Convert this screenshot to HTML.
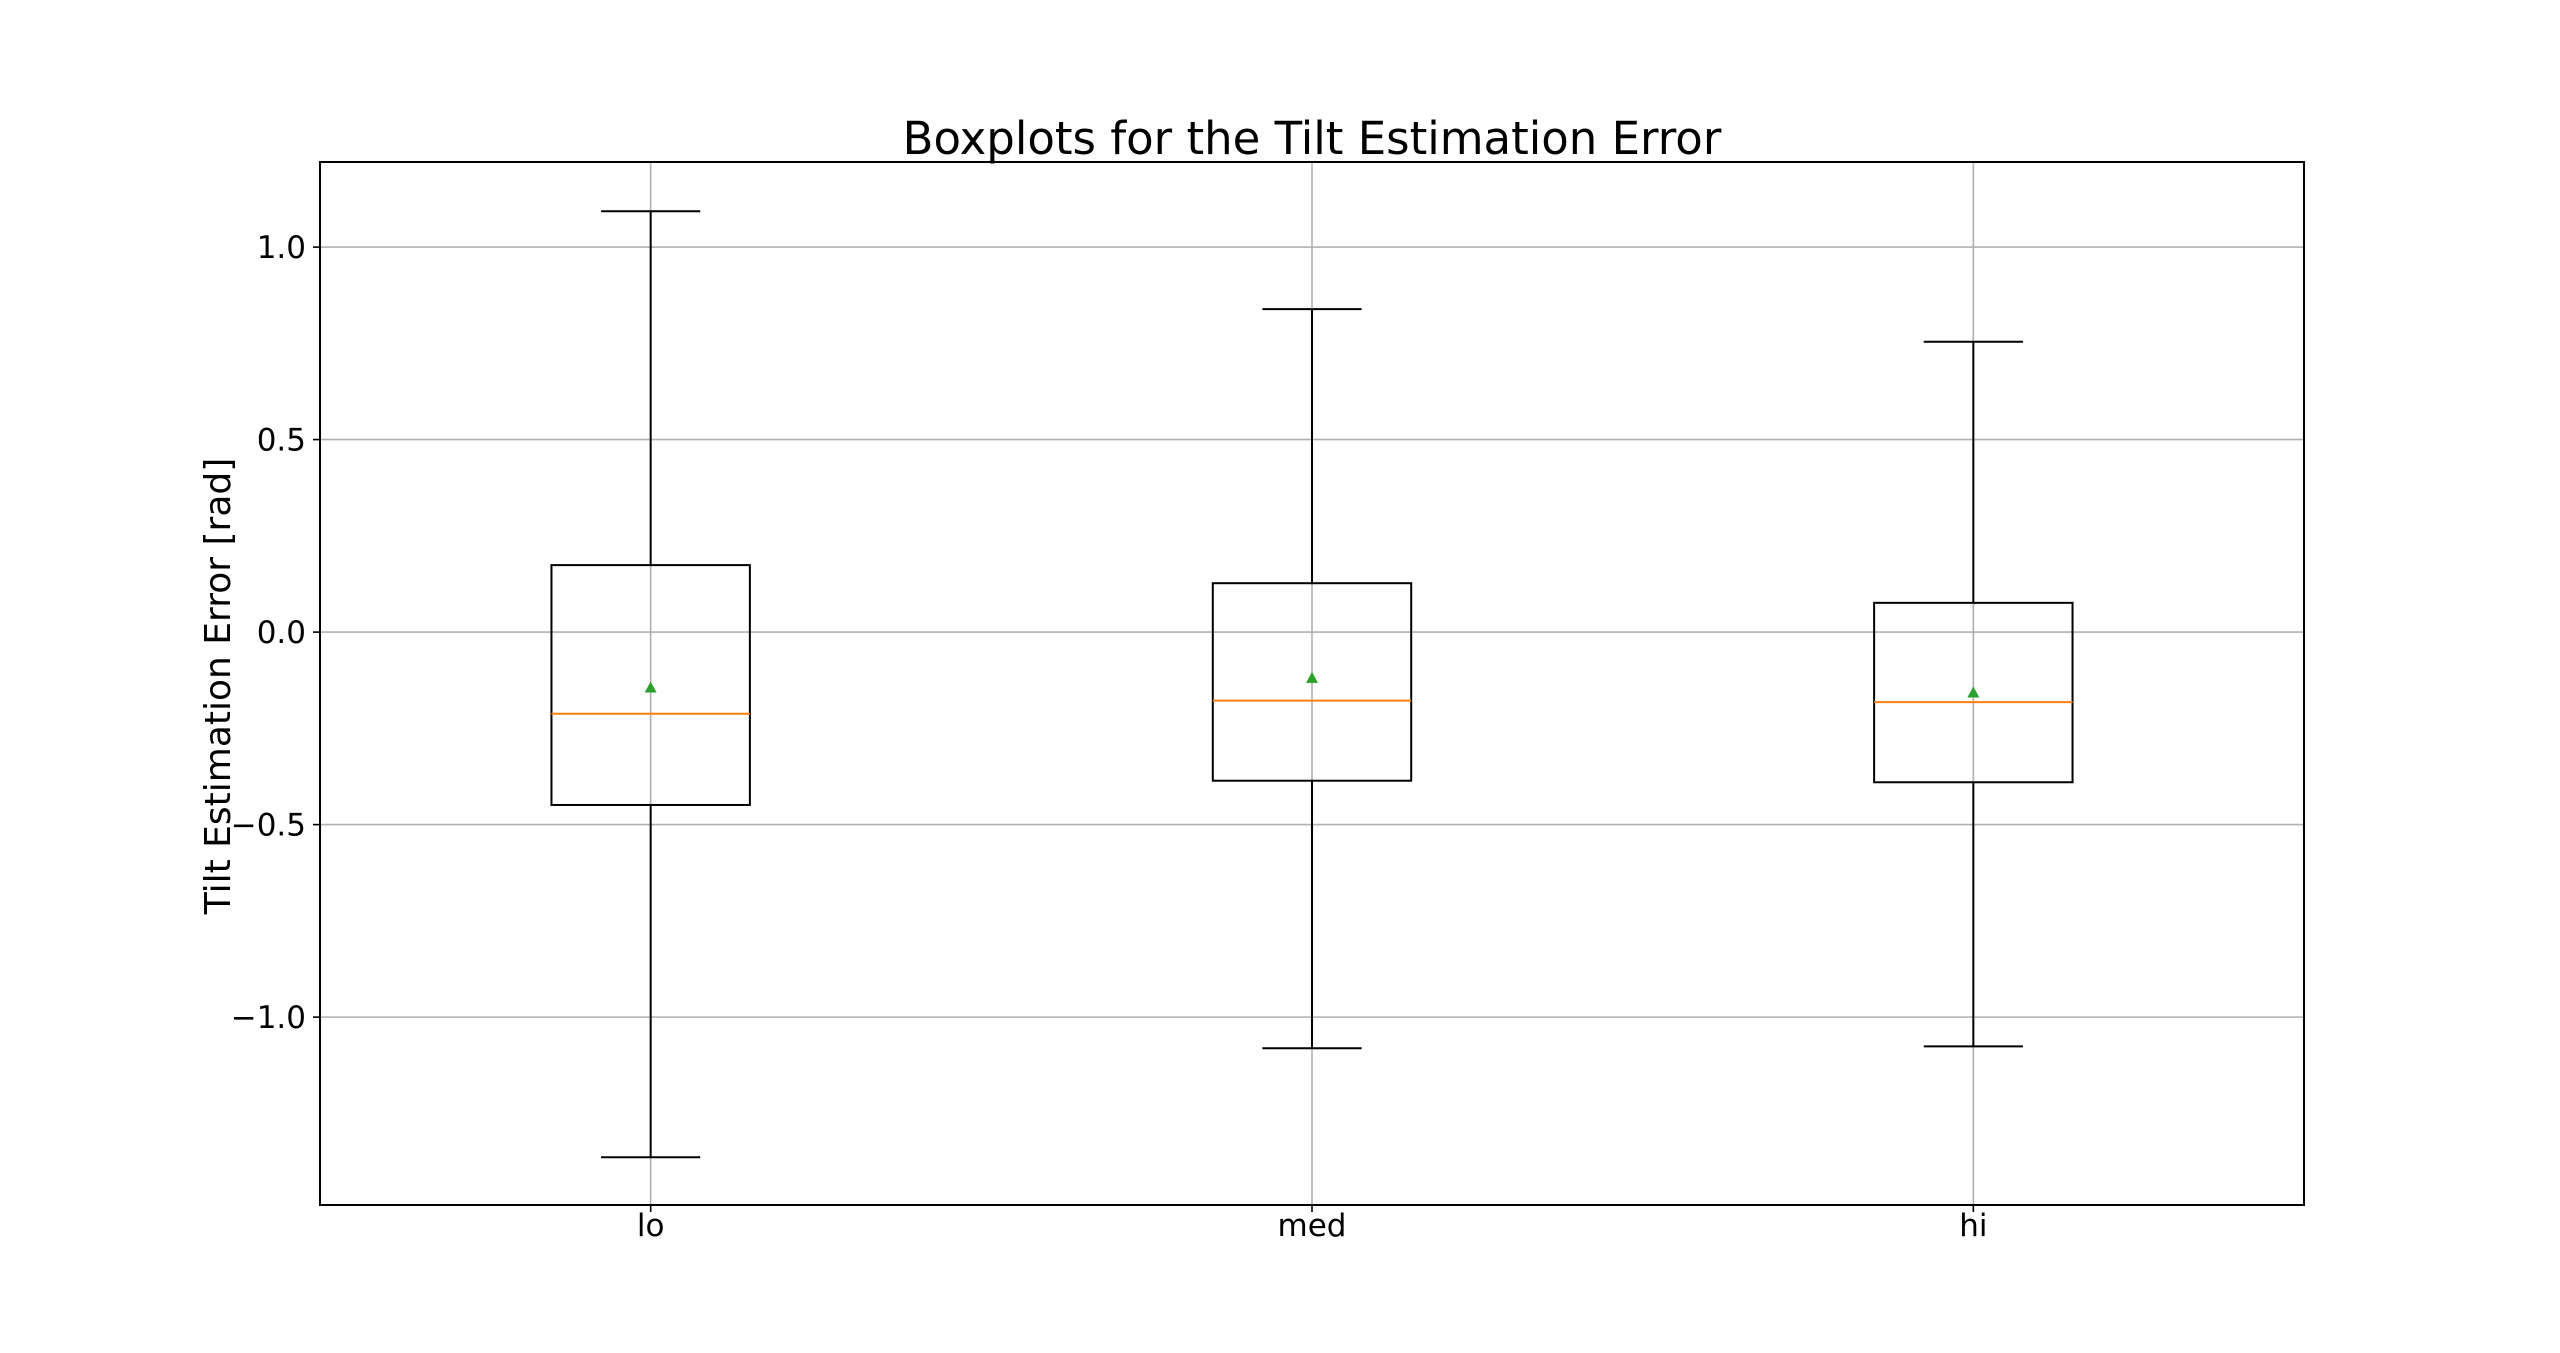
<!DOCTYPE html>
<html><head><meta charset="utf-8"><style>
html,body{margin:0;padding:0;background:#fff;}
svg{display:block;font-family:"DejaVu Sans","Liberation Sans",sans-serif;}
</style></head><body>
<svg id="chart" width="2560" height="1353" viewBox="0 0 2560 1353">
<text x="1312" y="154" font-size="45" text-anchor="middle">Boxplots for the Tilt Estimation Error</text>
<text transform="translate(230,686) rotate(-90)" font-size="36" text-anchor="middle">Tilt Estimation Error [rad]</text>
<g id="grid"></g><g id="boxes"></g><g id="ticks"></g>
<rect x="320" y="162" width="1984" height="1043" fill="none" stroke="#000" stroke-width="2"/>
</svg>
<script>
const categories = ["lo","med","hi"];
const whiskerHigh = [1.093, 0.839, 0.754];
const q3Values = [0.174, 0.127, 0.076];
const medianValues = [-0.212, -0.178, -0.182];
const meanValues = [-0.144, -0.119, -0.157];
const q1Values = [-0.449, -0.386, -0.390];
const whiskerLow = [-1.364, -1.081, -1.076];
const yTicks = [1.0, 0.5, 0.0, -0.5, -1.0];
const yTickLabels = ["1.0","0.5","0.0","\u22120.5","\u22121.0"];

const L=320,R=2304,T=162,B=1205, yMax=1.221, yMin=-1.488;
const ys=v=>T+(yMax-v)/(yMax-yMin)*(B-T);
const xs=i=>L+(i+0.5)/categories.length*(R-L);
const NS="http://www.w3.org/2000/svg";
function mk(tag,attrs,parent){const e=document.createElementNS(NS,tag);for(const k in attrs)e.setAttribute(k,attrs[k]);parent.appendChild(e);return e;}
const grid=document.getElementById('grid'),boxes=document.getElementById('boxes'),ticks=document.getElementById('ticks');
yTicks.forEach((v,i)=>{
  const y=ys(v);
  let g=mk('line',{x1:L,x2:R,y1:y,y2:y,stroke:'#b0b0b0','stroke-width':1.6},grid);
  
  
  let t=mk('line',{x1:L-7,x2:L,y1:y,y2:y,stroke:'#000','stroke-width':1.6},ticks);
  
  
  let l=mk('text',{x:L-14,y:y+11,'font-size':31,'text-anchor':'end'},ticks);
  l.textContent=yTickLabels[i];
  
  
});
const bw=(R-L)/categories.length*0.15, cw=(R-L)/categories.length*0.075;
categories.forEach((c,i)=>{
  const x=xs(i);
  let g=mk('line',{x1:x,x2:x,y1:T,y2:B,stroke:'#b0b0b0','stroke-width':1.6},grid);
  
  
  const grp=mk('g',{},boxes);
  
  
  const st={stroke:'#000','stroke-width':2,fill:'none'};
  let w1=mk('line',Object.assign({x1:x,x2:x,y1:ys(whiskerHigh[i]),y2:ys(q3Values[i])},st),grp);
  
  
  let w2=mk('line',Object.assign({x1:x,x2:x,y1:ys(q1Values[i]),y2:ys(whiskerLow[i])},st),grp);
  
  
  let c1=mk('line',Object.assign({x1:x-cw,x2:x+cw,y1:ys(whiskerHigh[i]),y2:ys(whiskerHigh[i])},st),grp);
  
  
  let c2=mk('line',Object.assign({x1:x-cw,x2:x+cw,y1:ys(whiskerLow[i]),y2:ys(whiskerLow[i])},st),grp);
  
  
  let b=mk('rect',Object.assign({x:x-bw,y:ys(q3Values[i]),width:2*bw,height:ys(q1Values[i])-ys(q3Values[i])},st),grp);
  
  
  let m=mk('line',{x1:x-bw,x2:x+bw,y1:ys(medianValues[i]),y2:ys(medianValues[i]),stroke:'#ff7f0e','stroke-width':2},grp);
  
  
  const my=ys(meanValues[i]);
  let p=mk('polygon',{points:`${x},${my-6} ${x-6},${my+5} ${x+6},${my+5}`,fill:'#2ca02c'},grp);
  
  
  let t=mk('line',{x1:x,x2:x,y1:B,y2:B+7,stroke:'#000','stroke-width':1.6},ticks);
  
  
  let l=mk('text',{x:x,y:B+31,'font-size':31,'text-anchor':'middle'},ticks);
  l.textContent=c;
  
  
});
</script>
</body></html>
